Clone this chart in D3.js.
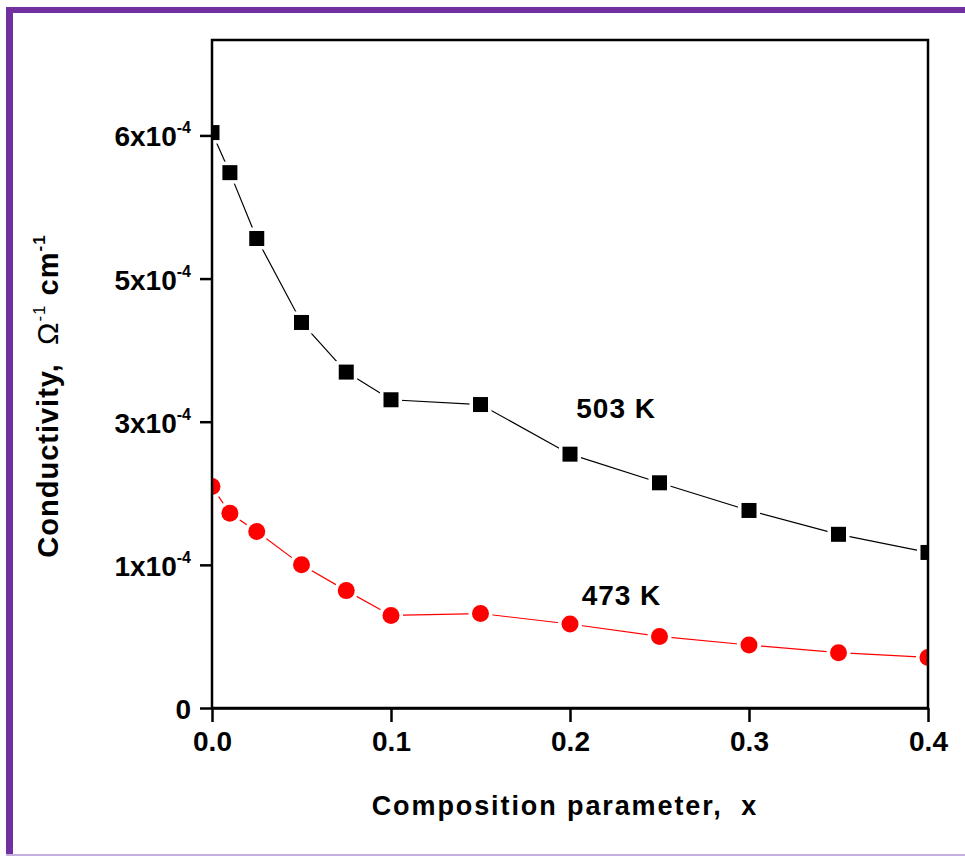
<!DOCTYPE html>
<html>
<head>
<meta charset="utf-8">
<script src="https://cdn.jsdelivr.net/npm/d3@7"></script>
<style>
  body { margin: 0; background: #fff; }
  svg text { font-family: "Liberation Sans", Arial, sans-serif; white-space: pre; }
</style>
</head>
<body>
<div id="chart"></div>
<script>
// composition parameter x
const compositionX = [0, 0.01, 0.025, 0.05, 0.075, 0.1, 0.15, 0.2, 0.25, 0.3, 0.35, 0.4];
// conductivity, in units of 1e-4 ohm^-1 cm^-1 (as placed on the plot)
const sigma503 = [6.03, 5.61, 4.92, 4.04, 3.52, 3.23, 3.18, 2.66, 2.36, 2.07, 1.82, 1.63];
const sigma473 = [2.32, 2.04, 1.85, 1.50, 1.23, 0.97, 0.99, 0.88, 0.75, 0.66, 0.58, 0.53];

const xTicks = [0, 0.1, 0.2, 0.3, 0.4];
const yTicks = [0, 1.5, 3, 4.5, 6];
const yTickLabels = ["0", "1x10", "3x10", "5x10", "6x10"];

const width = 965, height = 857;
const margin = { top: 40, right: 37, bottom: 149, left: 212 };

const svg = d3.select("#chart").append("svg")
    .attr("width", width)
    .attr("height", height);

// purple frame
svg.append("rect").attr("x", 6).attr("y", 7).attr("width", width - 6).attr("height", 6).attr("fill", "#7030a0");
svg.append("rect").attr("x", 6).attr("y", 7).attr("width", 7).attr("height", height - 9).attr("fill", "#7030a0");
svg.append("rect").attr("x", 6).attr("y", 854).attr("width", width - 6).attr("height", 2).attr("fill", "#c4aee0");

const x = d3.scaleLinear()
    .domain([0, 0.4])
    .range([margin.left, width - margin.right]);

const y = d3.scaleLinear()
    .domain([0, 7])
    .range([height - margin.bottom, margin.top]);

svg.append("clipPath").attr("id", "plotClip")
    .append("rect")
    .attr("x", x(0)).attr("y", y(7))
    .attr("width", x(0.4) - x(0)).attr("height", y(0) - y(7));

// x axis
const xAxis = svg.append("g")
    .attr("transform", `translate(0,${y(0)})`)
    .call(d3.axisBottom(x).tickValues(xTicks).tickSize(14).tickSizeOuter(0).tickPadding(9).tickFormat(d3.format(".1f")));
xAxis.select(".domain").attr("stroke-width", 2.5);
xAxis.selectAll(".tick line").attr("stroke-width", 2.5);
xAxis.selectAll(".tick text")
    .style("font-size", "28px").style("font-weight", "bold")
    .attr("fill", "#000");

// y axis
const yAxis = svg.append("g")
    .attr("transform", `translate(${x(0)},0)`)
    .call(d3.axisLeft(y).tickValues(yTicks).tickSize(12).tickSizeOuter(0).tickFormat(""));
yAxis.selectAll(".tick line").attr("stroke-width", 2.5);

yTicks.forEach((v, i) => {
    const t = svg.append("text")
        .attr("x", 191)
        .attr("y", y(v) + 11)
        .attr("text-anchor", "end")
        .style("font-size", "28px")
        .style("font-weight", "bold");
    t.append("tspan").text(yTickLabels[i]);
    if (i > 0) {
        t.append("tspan").attr("dy", -13).style("font-size", "16px").text("-4");
    }
});

// axis titles
svg.append("text")
    .attr("x", 565)
    .attr("y", 815)
    .attr("text-anchor", "middle")
    .style("font-size", "27px")
    .style("font-weight", "bold")
    .style("letter-spacing", "1.9px")
    .text("Composition parameter,  x");

const yTitle = svg.append("text")
    .attr("transform", "translate(58,396) rotate(-90)")
    .attr("text-anchor", "middle")
    .style("font-size", "29px")
    .style("font-weight", "bold")
    .style("letter-spacing", "1px");
yTitle.append("tspan").text("Conductivity,  ");
yTitle.append("tspan").style("font-weight", "normal").style("font-size", "30px").text("\u03A9");
yTitle.append("tspan").attr("dy", -13).style("font-size", "17px").style("font-weight", "normal").text("-1");
yTitle.append("tspan").attr("dy", 13).text(" cm");
yTitle.append("tspan").attr("dy", -13).style("font-size", "17px").text("-1");

const series = [
    { values: sigma503, color: "#000", shape: "square" },
    { values: sigma473, color: "#ff0000", shape: "circle" }
];

const line = d3.line()
    .x(d => x(d[0]))
    .y(d => y(d[1]));

series.forEach(s => {
    const pts = compositionX.map((c, i) => [c, s.values[i]]);
    const g = svg.append("g").attr("clip-path", "url(#plotClip)");
    g.append("path")
        .attr("d", line(pts))
        .attr("fill", "none")
        .attr("stroke", s.color)
        .attr("stroke-width", 1.2);

    if (s.shape === "square") {
        g.selectAll(".halo").data(pts).enter().append("rect")
            .attr("x", d => x(d[0]) - 11).attr("y", d => y(d[1]) - 11)
            .attr("width", 22).attr("height", 22)
            .attr("fill", "#fff");
        g.selectAll(".mark").data(pts).enter().append("rect")
            .attr("x", d => x(d[0]) - 7.5).attr("y", d => y(d[1]) - 7.5)
            .attr("width", 15).attr("height", 15)
            .attr("fill", s.color);
    } else {
        g.selectAll(".halo").data(pts).enter().append("circle")
            .attr("cx", d => x(d[0])).attr("cy", d => y(d[1]))
            .attr("r", 12).attr("fill", "#fff");
        g.selectAll(".mark").data(pts).enter().append("circle")
            .attr("cx", d => x(d[0])).attr("cy", d => y(d[1]))
            .attr("r", 8.5).attr("fill", s.color);
    }
});

// plot box on top
svg.append("rect")
    .attr("x", x(0)).attr("y", y(7))
    .attr("width", x(0.4) - x(0)).attr("height", y(0) - y(7))
    .attr("fill", "none").attr("stroke", "#000").attr("stroke-width", 2.5);

// temperature labels
svg.append("text")
    .attr("x", x(0.2035)).attr("y", y(3.04))
    .style("font-size", "28px").style("font-weight", "bold").style("letter-spacing", "1px")
    .text("503 K");
svg.append("text")
    .attr("x", x(0.2065)).attr("y", y(1.08))
    .style("font-size", "28px").style("font-weight", "bold").style("letter-spacing", "1px")
    .text("473 K");
</script>
</body>
</html>
